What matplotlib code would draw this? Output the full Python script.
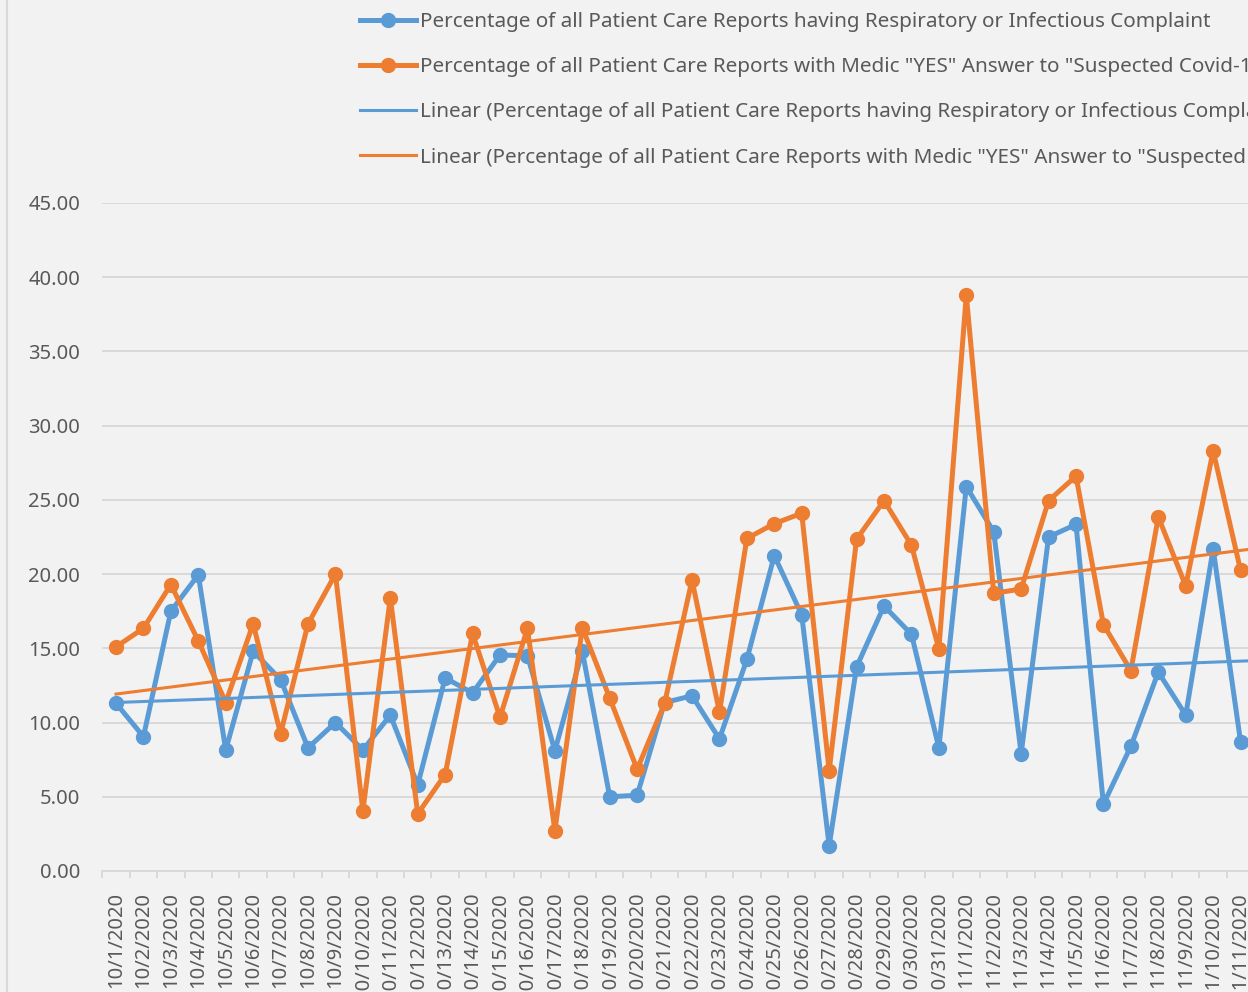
import matplotlib.pyplot as plt
from matplotlib.lines import Line2D
import numpy as np

plt.rcParams['font.family'] = ['Noto Sans', 'DejaVu Sans']

# dates 10/1/2020 .. 11/11/2020
dates = [f"10/{d}/2020" for d in range(1, 32)] + [f"11/{d}/2020" for d in range(1, 12)]

# % of reports with respiratory / infectious complaint
resp = [11.3, 9.05, 17.5, 19.95, 8.15, 14.8, 12.9, 8.3, 10.0, 8.15,
        10.5, 5.8, 13.0, 12.0, 14.55, 14.5, 8.1, 14.8, 5.0, 5.1,
        11.35, 11.8, 8.9, 14.25, 21.25, 17.25, 1.7, 13.75, 17.85, 15.95,
        8.3, 25.9, 22.85, 7.9, 22.5, 23.35, 4.5, 8.4, 13.4, 10.5,
        21.7, 8.7]
# % of reports with medic "YES" to suspected covid
covid = [15.1, 16.35, 19.3, 15.5, 11.35, 16.65, 9.25, 16.65, 20.0, 4.05,
         18.4, 3.85, 6.5, 16.0, 10.35, 16.35, 2.7, 16.4, 11.65, 6.85,
         11.3, 19.6, 10.7, 22.4, 23.4, 24.1, 6.75, 22.35, 24.95, 21.95,
         14.95, 38.8, 18.7, 19.0, 24.95, 26.6, 16.6, 13.5, 23.85, 19.2,
         28.3, 20.25]

# excel trendlines (slope, value at first date) - fitted on the full series,
# which runs on past the visible part, so read off the picture
trend_resp = [0.068, 11.35]
trend_covid = [0.236, 11.92]

lab_resp = "Percentage of all Patient Care Reports having Respiratory or Infectious Complaint"
lab_covid = 'Percentage of all Patient Care Reports with Medic "YES" Answer to "Suspected Covid-19"'

blue = '#5b9bd5'
orange = '#ed7d31'
grey = '#595959'
grid = '#d9d9d9'

fig = plt.figure(figsize=(12.48, 9.92), dpi=100, facecolor='#f2f2f2')
ax = fig.add_axes([102.3/1248, 121/992, 1152/1248, 668/992], facecolor='#f2f2f2')

x = np.arange(len(dates))
ax.plot(x, resp, color=blue, lw=3.6, marker='o', ms=10, zorder=3)
ax.plot(x, covid, color=orange, lw=3.6, marker='o', ms=10, zorder=4)

# linear trendlines
xt = np.array([0, len(dates) - 0.5])
ax.plot(xt, np.polyval(trend_resp, xt), color=blue, lw=2.2, zorder=5)
ax.plot(xt, np.polyval(trend_covid, xt), color=orange, lw=2.2, zorder=5)

ax.set_xlim(-0.5, len(dates) - 0.5)
ax.set_ylim(0, 45)
ax.set_yticks(np.arange(0, 46, 5))
ax.yaxis.set_major_formatter(plt.FormatStrFormatter('%.2f'))
ax.grid(axis='y', color=grid, lw=1.4)
ax.set_axisbelow(True)
for s in ['top', 'right', 'left']:
    ax.spines[s].set_visible(False)
ax.spines['bottom'].set_color(grid)
ax.spines['bottom'].set_linewidth(1.4)

ax.set_xticks(x)
ax.set_xticklabels(dates, rotation=90, va='top')
ax.set_xticks(np.arange(-0.5, len(dates)), minor=True)
ax.tick_params(axis='x', which='major', length=0, pad=15, labelsize=14.5, labelcolor=grey)
ax.tick_params(axis='x', which='minor', length=5, width=1.4, color=grid)
ax.tick_params(axis='y', length=0, pad=16, labelsize=14.5, labelcolor=grey)

handles = [
    Line2D([], [], color=blue, lw=3.6, marker='o', ms=10),
    Line2D([], [], color=orange, lw=3.6, marker='o', ms=10),
    Line2D([], [], color=blue, lw=2.2),
    Line2D([], [], color=orange, lw=2.2),
]
labels = [lab_resp, lab_covid, "Linear (" + lab_resp + ")", "Linear (" + lab_covid + ")"]
fig.legend(handles, labels, loc='upper left', bbox_to_anchor=(360/1248, 1 - 12/992),
           frameon=False, fontsize=14.9, labelcolor=grey, handlelength=2.7,
           handletextpad=0.2, labelspacing=1.22, borderpad=0, borderaxespad=0,
           numpoints=1)

# chart area border
fig.add_artist(Line2D([7/1248, 7/1248], [0, 1], color=grid, lw=1.5))

fig.savefig('out.png', dpi=100, facecolor=fig.get_facecolor())
